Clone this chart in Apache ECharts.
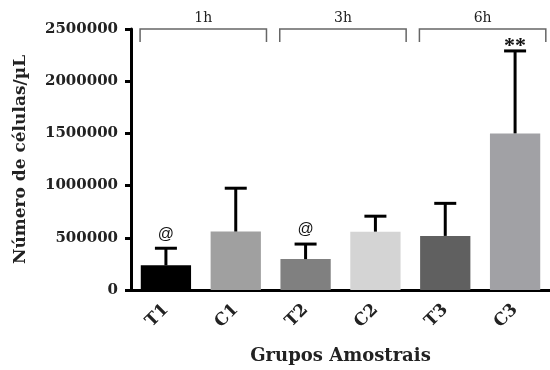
<!DOCTYPE html>
<html>
<head>
<meta charset="utf-8">
<script src="https://cdn.jsdelivr.net/npm/echarts@6/dist/echarts.min.js"></script>
<style>
  html, body { margin: 0; padding: 0; background: #fff; }
  #chart { width: 550px; height: 370px; }
</style>
</head>
<body>
<div id="chart"></div>
<script>
// dados
const categories = ["T1", "C1", "T2", "C2", "T3", "C3"];
const means = [236000, 560000, 296000, 559000, 518000, 1500000];
const errUpper = [400000, 975000, 440000, 707000, 830000, 2290000];
const barColors = ["#000000", "#a0a0a0", "#808080", "#d4d4d4", "#606060", "#a1a1a5"];
const marks = ["@", "", "@", "", "", "**"];
const groupLabels = ["1h", "3h", "6h"];
const groupStart = [0, 2, 4];
const yTicks = [0, 500000, 1000000, 1500000, 2000000, 2500000];

const serif = "'DejaVu Serif', 'Liberation Serif', serif";

const chart = echarts.init(document.getElementById("chart"));

const option = {
  animation: false,
  grid: { left: 131, top: 29, width: 422, bottom: 77 },
  xAxis: {
    type: "category",
    data: categories,
    name: "Grupos Amostrais",
    nameLocation: "middle",
    nameGap: 57,
    nameTextStyle: { fontFamily: serif, fontWeight: "bold", fontSize: 18, color: "#222" },
    axisLine: { lineStyle: { color: "#000", width: 3 } },
    axisTick: { alignWithLabel: true, length: 6, lineStyle: { color: "#000", width: 3 } },
    axisLabel: { rotate: 45, margin: 17, fontFamily: serif, fontWeight: "bold", fontSize: 17, color: "#222" }
  },
  yAxis: {
    type: "value",
    min: 0,
    max: yTicks[yTicks.length - 1],
    interval: 500000,
    name: "Número de células/µL",
    nameLocation: "middle",
    nameGap: 102,
    nameTextStyle: { fontFamily: serif, fontWeight: "bold", fontSize: 17, color: "#222" },
    splitLine: { show: false },
    axisLine: { show: true, lineStyle: { color: "#000", width: 3 } },
    axisTick: { show: true, length: 6, lineStyle: { color: "#000", width: 3 } },
    axisLabel: {
      margin: 13, fontFamily: serif, fontWeight: "bold", fontSize: 15, color: "#222",
      formatter: (v) => String(v)
    }
  },
  series: [
    {
      type: "bar",
      barWidth: "72%",
      data: means.map((v, i) => ({ value: v, itemStyle: { color: barColors[i] } })),
      z: 2
    },
    {
      type: "custom",
      z: 3,
      data: means.map((v, i) => [i, v, errUpper[i]]),
      renderItem: function (params, api) {
        const i = api.value(0);
        const base = api.coord([i, api.value(1)]);
        const top = api.coord([i, api.value(2)]);
        const half = 11;
        const children = [
          { type: "line", shape: { x1: base[0], y1: base[1], x2: top[0], y2: top[1] }, style: { stroke: "#000", lineWidth: 3 } },
          { type: "line", shape: { x1: top[0] - half, y1: top[1], x2: top[0] + half, y2: top[1] }, style: { stroke: "#000", lineWidth: 3 } }
        ];
        if (marks[i]) {
          const star = marks[i] === "**";
          children.push({
            type: "text",
            style: {
              text: marks[i], x: top[0], y: top[1] - (star ? 5 : 14),
              textAlign: "center", textVerticalAlign: "middle",
              font: star ? "bold 22px 'Liberation Serif', serif" : "16px 'Liberation Sans', sans-serif", fill: "#111"
            }
          });
        }
        return { type: "group", children: children };
      }
    },
    {
      type: "custom",
      z: 4,
      clip: false,
      data: groupStart.map((s, g) => [s, g]),
      renderItem: function (params, api) {
        const s = api.value(0);
        const g = api.value(1);
        const w = api.size([1, 0])[0];
        const a = api.coord([s, yTicks[yTicks.length - 1]]);
        const b = api.coord([s + 1, yTicks[yTicks.length - 1]]);
        const x1 = a[0] - 0.37 * w;
        const x2 = b[0] + 0.44 * w;
        const y = a[1];
        return {
          type: "group",
          children: [
            { type: "polyline", shape: { points: [[x1, y + 13], [x1, y], [x2, y], [x2, y + 13]] }, style: { stroke: "#666", lineWidth: 1.5, fill: null } },
            { type: "text", style: { text: groupLabels[g], x: (x1 + x2) / 2, y: y - 4, textAlign: "center", textVerticalAlign: "bottom", font: "14px " + serif, fill: "#222" } }
          ]
        };
      }
    }
  ]
};

chart.setOption(option);
</script>
</body>
</html>
